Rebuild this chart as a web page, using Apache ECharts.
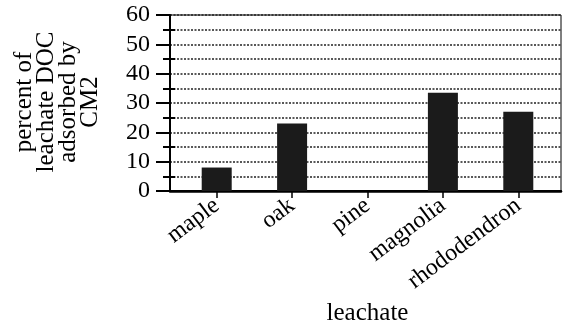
<!DOCTYPE html>
<html>
<head>
<meta charset="utf-8">
<script src="https://cdn.jsdelivr.net/npm/echarts@6/dist/echarts.min.js"></script>
<style>
  html, body { margin: 0; padding: 0; background: #fff; }
  #chart { width: 566px; height: 334px; }
</style>
</head>
<body>
<div id="chart"></div>
<script>
// Leachate DOC adsorption by CM2
const categories = ['maple', 'oak', 'pine', 'magnolia', 'rhododendron'];
const percentAdsorbed = [8, 23, 0, 33.5, 27];
const yTicks = [0, 10, 20, 30, 40, 50, 60];
const yMinorTicks = [5, 15, 25, 35, 45, 55];
const xTitle = 'leachate';
const yTitleLines = ['percent of', 'leachate DOC', 'adsorbed by', 'CM2'];

const FONT = '"Liberation Serif", "DejaVu Serif", serif';
const INK = '#000';

const chart = echarts.init(document.getElementById('chart'), null, { renderer: 'canvas' });

chart.setOption({
  animation: false,
  backgroundColor: '#fff',
  grid: [
    // category band area for the bars
    { left: 179, right: 10, top: 15, bottom: 143 },
    // framed plot area
    { left: 170, right: 5, top: 15, bottom: 143, show: true, borderColor: INK, borderWidth: 1, backgroundColor: 'transparent' }
  ],
  xAxis: [
    {
      type: 'category', gridIndex: 0, data: categories,
      boundaryGap: true,
      axisLine: { show: false },
      axisTick: { show: true, alignWithLabel: true, length: 7, lineStyle: { color: INK, width: 1.5 } },
      axisLabel: { rotate: 37, margin: 12, color: INK, fontFamily: FONT, fontSize: 24, interval: 0 },
      name: xTitle, nameLocation: 'middle', nameGap: 110,
      nameTextStyle: { color: INK, fontFamily: FONT, fontSize: 25 }
    },
    {
      type: 'value', gridIndex: 1, position: 'bottom', min: 0, max: 1,
      axisLine: { show: true, lineStyle: { color: INK, width: 2.5 } },
      axisTick: { show: false }, axisLabel: { show: false }, splitLine: { show: false }
    },
    {
      type: 'value', gridIndex: 1, position: 'top', min: 0, max: 1,
      axisLine: { show: true, lineStyle: { color: INK, width: 2 } },
      axisTick: { show: false }, axisLabel: { show: false }, splitLine: { show: false }
    }
  ],
  yAxis: [
    {
      type: 'value', gridIndex: 0, min: 0, max: 60, show: false
    },
    {
      type: 'value', gridIndex: 1, min: yTicks[0], max: yTicks[yTicks.length - 1], interval: 10,
      axisLine: { show: true, lineStyle: { color: INK, width: 2 } },
      axisTick: { show: true, length: 14, lineStyle: { color: INK, width: 2 } },
      minorTick: { show: true, splitNumber: 2, length: 7, lineStyle: { color: INK, width: 2 } },
      axisLabel: { color: INK, fontFamily: FONT, fontSize: 24, margin: 20 },
      splitLine: { show: true, lineStyle: { color: '#222', width: 1.5, type: [2, 1.5] } },
      minorSplitLine: { show: true, lineStyle: { color: '#222', width: 1.5, type: [2, 1.5] } }
    },
    {
      // inward half of the minor ticks
      type: 'value', gridIndex: 1, min: 0, max: 60, position: 'left',
      axisLine: { show: false },
      axisTick: { show: true, inside: true, length: 5, customValues: yMinorTicks, lineStyle: { color: INK, width: 2 } },
      axisLabel: { show: false }, splitLine: { show: false }
    }
  ],
  series: [
    {
      type: 'bar', xAxisIndex: 0, yAxisIndex: 0,
      data: percentAdsorbed,
      barWidth: 30,
      itemStyle: { color: '#1b1b1b' },
      z: 5
    }
  ],
  graphic: [
    {
      type: 'text',
      x: 57, y: 102,
      rotation: Math.PI / 2,
      style: {
        text: yTitleLines.join('\n'),
        fill: INK,
        font: '25px ' + FONT,
        lineHeight: 22,
        align: 'center',
        verticalAlign: 'middle'
      }
    }
  ]
});
</script>
</body>
</html>
